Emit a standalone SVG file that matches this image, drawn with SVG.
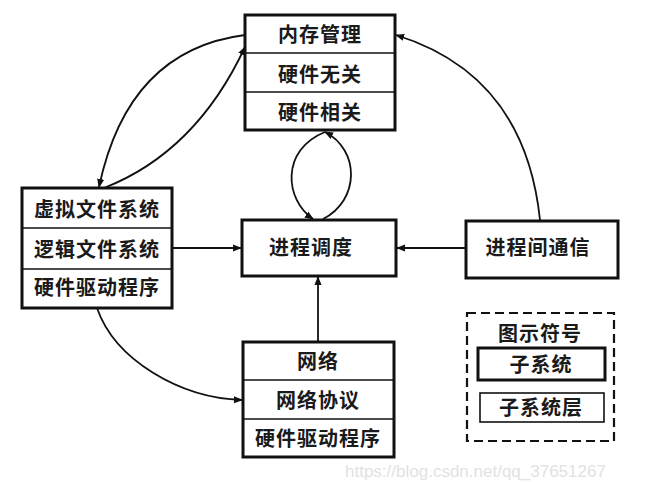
<svg xmlns="http://www.w3.org/2000/svg" width="651" height="482" viewBox="0 0 651 482">
<defs>
<marker id="ah" viewBox="0 0 10 10" refX="9" refY="5" markerWidth="9" markerHeight="9" markerUnits="userSpaceOnUse" orient="auto">
<path d="M0,1 L10,5 L0,9 Z" fill="#111"/>
</marker>
</defs>
<style>
.box{fill:#fff;stroke:#111;stroke-width:3}
.thin{fill:#fff;stroke:#111;stroke-width:1.6}
.div{stroke:#111;stroke-width:1.6}
.t{font-family:"Noto Sans CJK SC","Noto Sans CJK JP",sans-serif;font-size:20px;font-weight:bold;fill:#1a1a1a;text-anchor:middle;letter-spacing:1px}
.c{fill:none;stroke:#111;stroke-width:1.8;marker-end:url(#ah)}
.wm{font-family:"Liberation Sans",Arial,sans-serif;font-size:17px;fill:#e2e2e2}
</style>
<rect width="651" height="482" fill="#fff"/>
<g id="connectors">
<path class="c" d="M245,35 Q128,50 99,187"/>
<path class="c" d="M104,188 Q196,152 245,47"/>
<path class="c" d="M540,220 Q525,75 396,35"/>
<path class="c" d="M325,132 C280,150 285,200 313,219"/>
<path class="c" d="M323,219 C360,200 360,150 325,132"/>
<path class="c" d="M172,248 L241,248"/>
<path class="c" d="M466,248 L397,248"/>
<path class="c" d="M318,342 L318,277"/>
<path class="c" d="M97,308 C115,360 180,398 242,400"/>
</g>
<g id="memory">
<rect class="box" x="245" y="15" width="150" height="115"/>
<line class="div" x1="245" y1="53" x2="395" y2="53"/>
<line class="div" x1="245" y1="92" x2="395" y2="92"/>
<text class="t" x="320" y="42">内存管理</text>
<text class="t" x="320" y="82">硬件无关</text>
<text class="t" x="320" y="120">硬件相关</text>
</g>
<g id="filesystem">
<rect class="box" x="22" y="188" width="150" height="120"/>
<line class="div" x1="22" y1="228" x2="172" y2="228"/>
<line class="div" x1="22" y1="269" x2="172" y2="269"/>
<text class="t" x="97" y="217">虚拟文件系统</text>
<text class="t" x="97" y="257">逻辑文件系统</text>
<text class="t" x="97" y="295">硬件驱动程序</text>
</g>
<g id="scheduler">
<rect class="box" x="242" y="220" width="154" height="56"/>
<text class="t" x="311" y="255">进程调度</text>
</g>
<g id="ipc">
<rect class="box" x="466" y="221" width="152" height="57"/>
<text class="t" x="538" y="255">进程间通信</text>
</g>
<g id="network">
<rect class="box" x="243" y="342" width="151" height="115"/>
<line class="div" x1="243" y1="380" x2="394" y2="380"/>
<line class="div" x1="243" y1="419" x2="394" y2="419"/>
<text class="t" x="318" y="369">网络</text>
<text class="t" x="318" y="408">网络协议</text>
<text class="t" x="318" y="446">硬件驱动程序</text>
</g>
<g id="legend">
<rect x="467" y="313" width="147" height="128" fill="none" stroke="#111" stroke-width="2.2" stroke-dasharray="9,5"/>
<text class="t" x="540" y="341">图示符号</text>
<rect class="box" x="478" y="348" width="127" height="32"/>
<text class="t" x="541" y="372">子系统</text>
<rect class="thin" x="480" y="393" width="124" height="29"/>
<text class="t" x="541" y="415">子系统层</text>
</g>
<text class="wm" x="345" y="477">https://blog.csdn.net/qq_37651267</text>
</svg>
